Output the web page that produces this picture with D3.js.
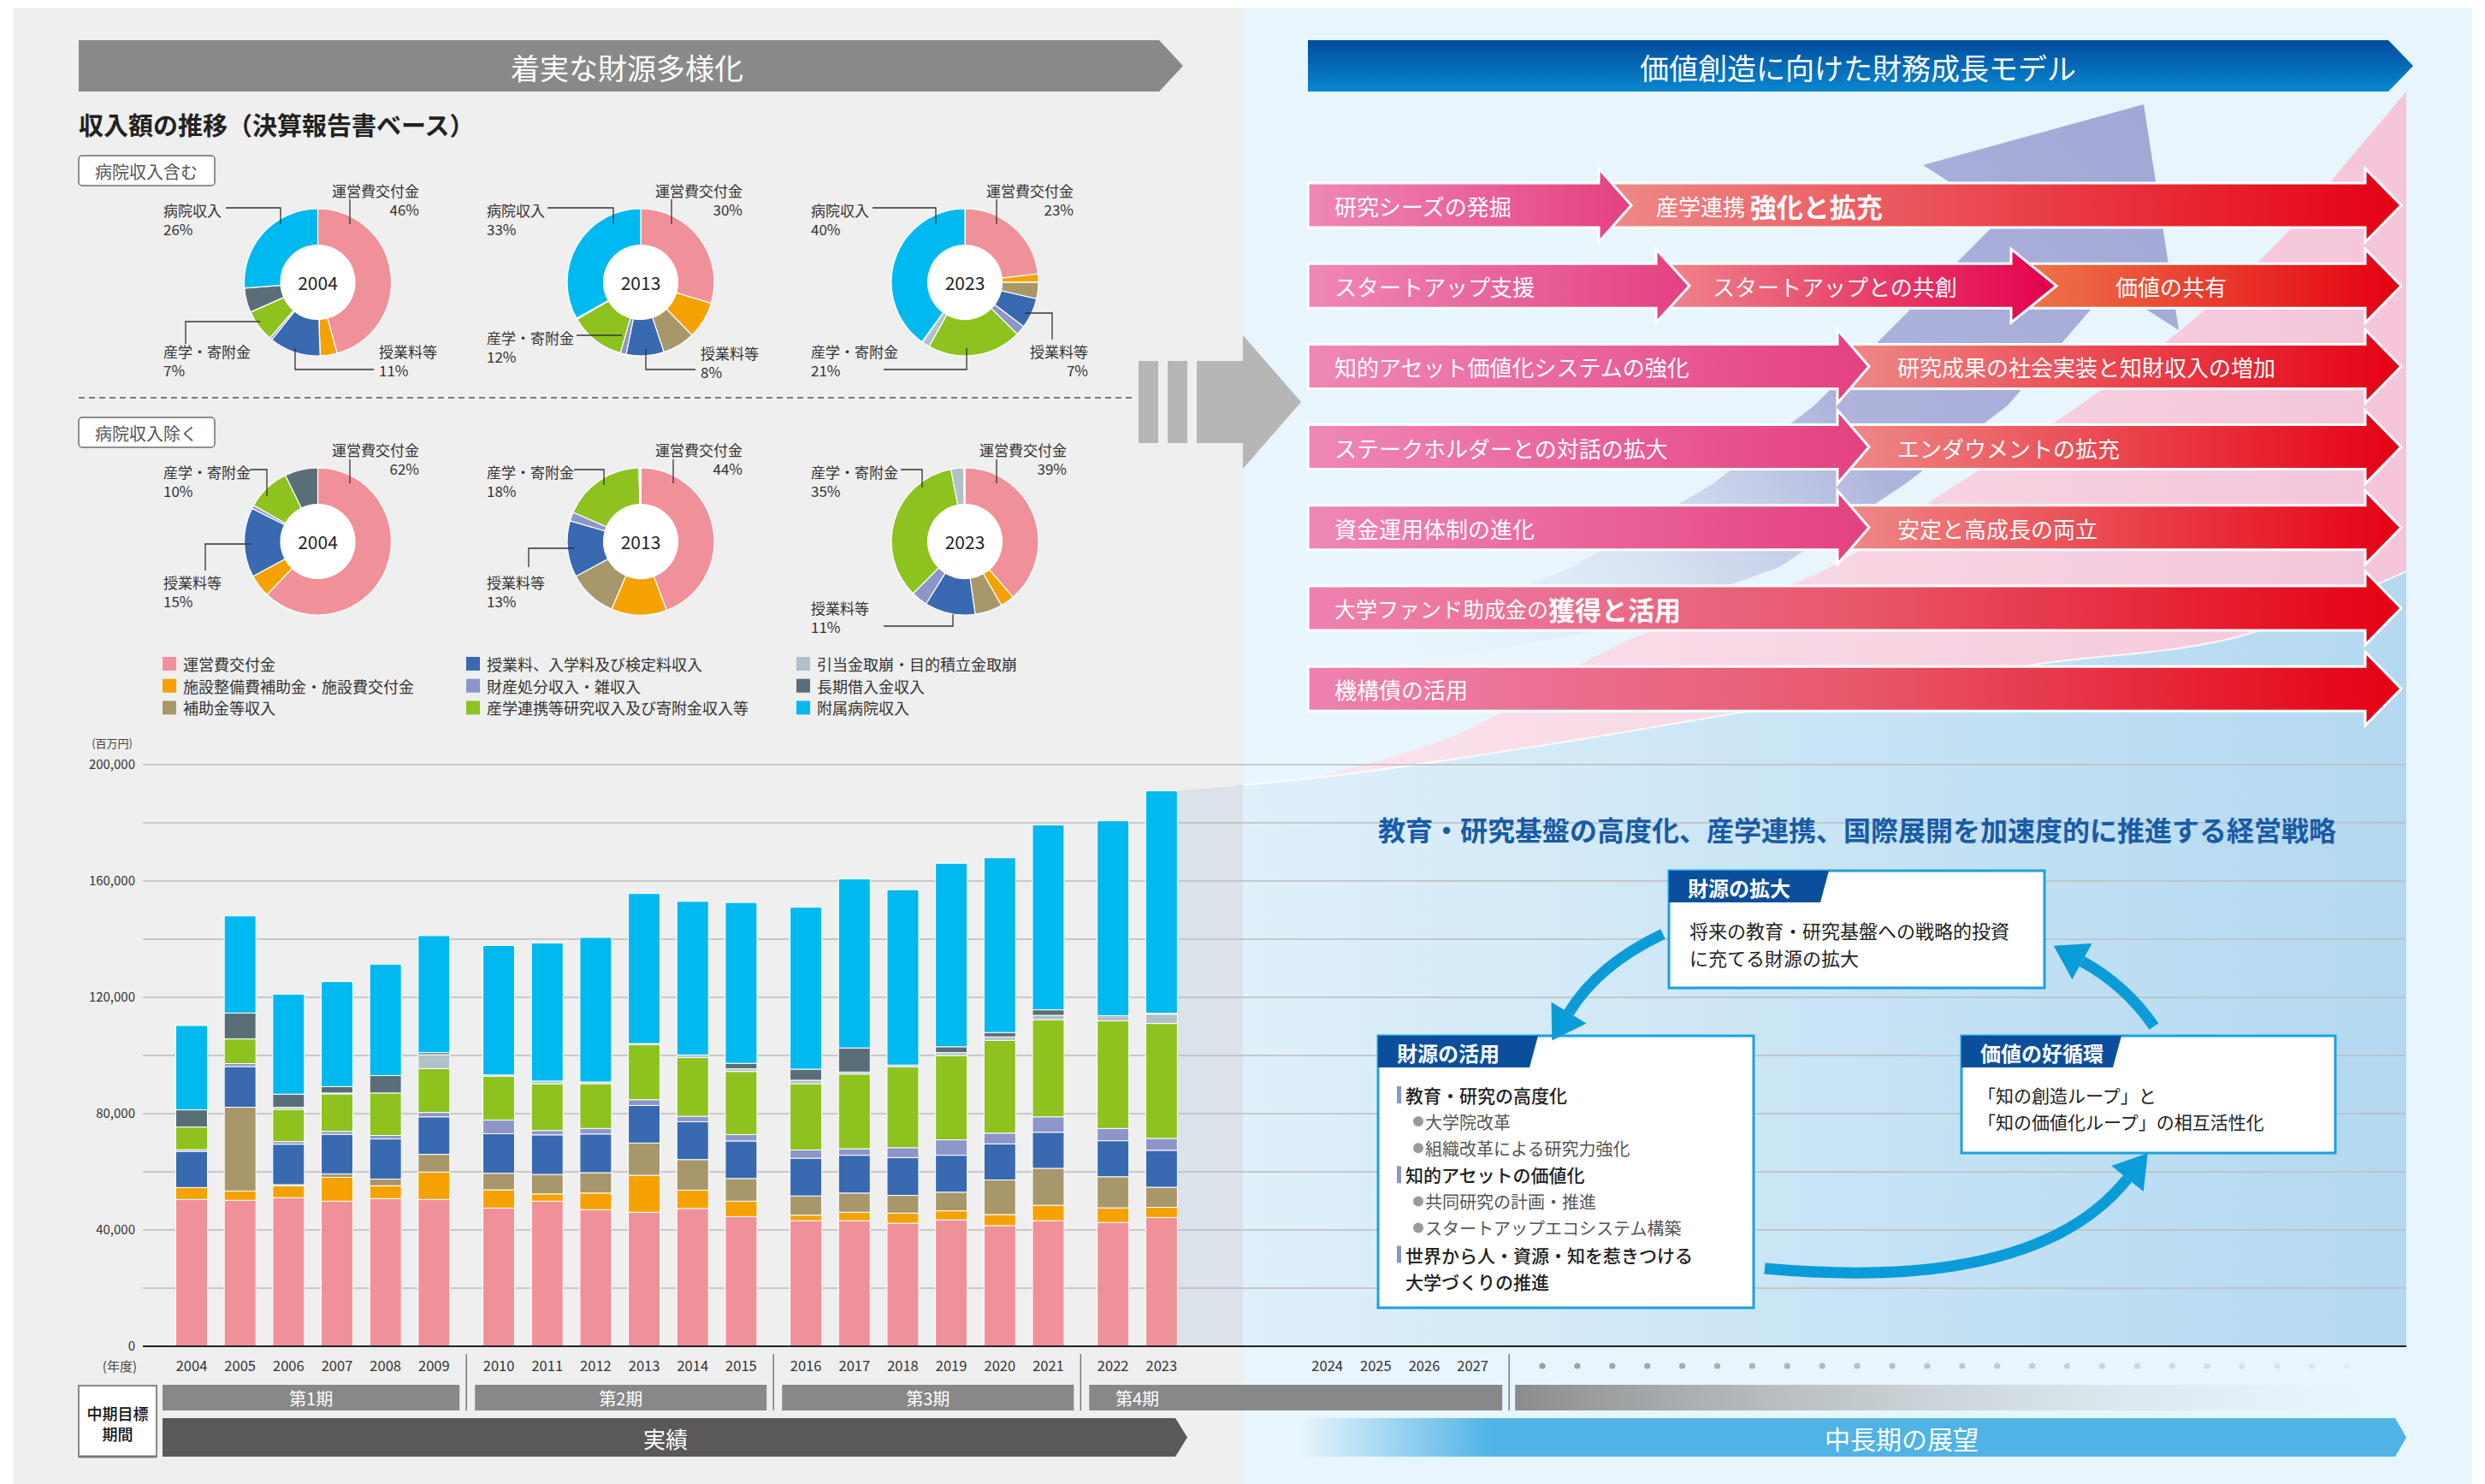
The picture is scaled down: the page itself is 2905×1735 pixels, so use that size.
<!DOCTYPE html>
<html><head><meta charset="utf-8">
<script src="https://cdn.jsdelivr.net/npm/d3@7"></script>
<style>
html,body{margin:0;padding:0;background:#fff;}
svg{display:block;font-family:"Noto Sans CJK JP","Noto Sans",sans-serif;}
</style></head><body>
<svg id="c" width="2905" height="1735"></svg>
<script>
// ---------------- DATA ----------------
const years = [2004,2005,2006,2007,2008,2009,2010,2011,2012,2013,2014,2015,2016,2017,2018,2019,2020,2021,2022,2023];
const futureYears = [2024,2025,2026,2027];
// 百万円
const unkeiKofukin      = [50500,50200,51100,49900,50800,50500,47500,49900,47000,46100,47400,44600,43200,43200,42300,43500,41500,43200,42600,44300];
const shisetsuHojo      = [4100,3200,4100,8200,4400,9400,6300,2500,5700,12700,6300,5300,1900,2900,3500,3100,3800,5300,5000,3500];
const hojokinTo         = [0,28800,400,1200,2300,6100,5700,6700,7000,11100,10500,7800,6600,6600,6100,6400,11900,12700,10700,6900];
const jugyoryo          = [12400,14000,13900,13600,13800,12900,13600,13600,13300,12900,13000,12900,13000,13000,13000,12700,12400,12400,12400,12700];
const zaisanZatsu       = [600,1000,900,1000,1200,1500,4700,1500,1900,2000,1900,2200,2800,2200,3400,5300,3700,5300,4200,4100];
const sangakuKifu       = [7800,8500,11100,12900,14600,15100,15100,16100,15400,18900,20200,21700,22800,25700,27800,29000,31900,33400,37000,39500];
const hikiateTorikuzushi= [0,0,700,300,0,4800,400,900,600,400,900,900,1200,700,600,1000,1200,1500,1800,3200];
const chokiKariire      = [5900,8900,4500,2200,6000,700,0,0,0,0,0,1900,3800,8300,0,2000,1500,1900,0,300];
const byoinShunyu       = [29000,33400,34400,36100,38300,40200,44500,47500,49700,51600,52800,55300,55700,58100,60300,63100,60100,63600,67000,76500];

const seriesNames = ["運営費交付金","施設整備費補助金・施設費交付金","補助金等収入","授業料、入学料及び検定料収入","財産処分収入・雑収入","産学連携等研究収入及び寄附金収入等","引当金取崩・目的積立金取崩","長期借入金収入","附属病院収入"];
const seriesColors = ["#F0919A","#F5A200","#A8976B","#3869B1","#8E95C9","#8DC21F","#B1C0C9","#5A6E78","#00B9EF"];
const seriesValues = [unkeiKofukin,shisetsuHojo,hojokinTo,jugyoryo,zaisanZatsu,sangakuKifu,hikiateTorikuzushi,chokiKariire,byoinShunyu];

const yTicks = [0,40000,80000,120000,160000,200000];
const periodLabels = ["第1期","第2期","第3期","第4期"];
const donutYears = [2004,2013,2023];
const donutInclNames = ["運営費交付金","病院収入","産学・寄附金","授業料等"];
const donutInclPct = [["46%","26%","7%","11%"],["30%","33%","12%","8%"],["23%","40%","21%","7%"]];
const donutExclNames = ["運営費交付金","産学・寄附金","授業料等"];
const donutExclPct = [["62%","10%","15%"],["44%","18%","13%"],["39%","35%","11%"]];

const rowLeftTexts = ["研究シーズの発掘","スタートアップ支援","知的アセット価値化システムの強化","ステークホルダーとの対話の拡大","資金運用体制の進化"];
const rowRightTexts = ["強化と拡充","スタートアップとの共創","研究成果の社会実装と知財収入の増加","エンダウメントの拡充","安定と高成長の両立"];

// ---------------- SETUP ----------------
const svg = d3.select("#c");
const defs = svg.append("defs");
function grad(id, x1,y1,x2,y2, stops, user){
  const g = defs.append("linearGradient").attr("id",id)
    .attr("x1",x1).attr("y1",y1).attr("x2",x2).attr("y2",y2);
  if(user) g.attr("gradientUnits","userSpaceOnUse");
  stops.forEach(s=>g.append("stop").attr("offset",s[0]).attr("stop-color",s[1]).attr("stop-opacity",s[2]===undefined?1:s[2]));
}
grad("gBlueHead","0","0","0","1",[[0,"#004C9C"],[1,"#0A87D0"]]);
grad("gPink","0","0","1","0",[[0,"#EF88B5"],[1,"#E4407F"]]);
grad("gRed","0","0","1","0",[[0,"#EF8C8A"],[1,"#E50014"]]);
grad("gMid","0","0","1","0",[[0,"#EF8A8C"],[1,"#E3004E"]]);
grad("gOrange","0","0","1","0",[[0,"#EE7C4C"],[1,"#E50012"]]);
grad("gFull","0","0","1","0",[[0,"#EE82B0"],[0.5,"#E8586B"],[1,"#E50012"]]);
grad("gWedge",1530,0,2813,0,[[0,"#FBE4EE"],[1,"#F5C5D9"]],true);
grad("gRegion",1453,0,2813,0,[[0,"#DFF0FA"],[1,"#B3D8F0"]],true);
grad("gLav",2506,122,1600,770,[[0,"#A2A8D5"],[0.45,"#AEB4DC"],[1,"#E8F5FC",0]],true);
grad("gFuture",1520,0,1745,0,[[0,"#4FB3E6",0],[1,"#4FB3E6",1]],true);
grad("gFade",1772,0,2779,0,[[0,"#8C8C8C"],[1,"#E8F5FC",0.2]],true);

const y = d3.scaleLinear().domain([0,200000]).range([1574,894]);
const GAP = 0.336, STEP = 56.67, X0 = 224;
const periodIdx = years.map(v => v<=2009?0 : v<=2015?1 : v<=2021?2 : 3);
const slots = years.map((v,i)=> i + periodIdx[i]*GAP);
const x = d3.scaleLinear().domain([0,1]).range([X0, X0+STEP]);
const futureSlots = futureYears.map((v,j)=> slots[slots.length-1] + 3.42 + j);
const BW = 37;

// ---------------- PANELS ----------------
svg.append("rect").attr("x",0).attr("y",0).attr("width",2905).attr("height",1735).attr("fill","#fff");
svg.append("rect").attr("x",15).attr("y",9).attr("width",1438).attr("height",1726).attr("fill","#EFEFEF");
svg.append("rect").attr("x",1453).attr("y",9).attr("width",1437).attr("height",1726).attr("fill","#E8F5FC");

// pink wedge
const total2023 = seriesValues.reduce((s,a)=>s+a[a.length-1],0);
const regionTop = [[x(slots[19])+BW/2, y(total2023)],[1533,910],[1800,872],[2100,822],[2378,777],[2625,742],[2813,668]];
const wedgeLeft = [[1533,910],[1700,860],[1900,750],[2130,668],[2280,571],[2431,474],[2554,382],[2661,285],[2749,183],[2813,107]];
const lineGen = d3.line().curve(d3.curveMonotoneX);
{
  const top = d3.line().curve(d3.curveCatmullRom)(wedgeLeft);
  const back = d3.line().curve(d3.curveMonotoneX)(regionTop.slice(1).reverse());
  svg.append("path").attr("d", top + "L2813,668" + back.replace(/^M/,"L") + "Z").attr("fill","url(#gWedge)");
}
// growth region
{
  const topPath = lineGen(regionTop);
  const d = topPath + `L2813,1574L${regionTop[0][0]},1574Z`;
  defs.append("clipPath").attr("id","cpR").append("rect").attr("x",1453).attr("y",0).attr("width",1500).attr("height",1735);
  defs.append("clipPath").attr("id","cpL").append("rect").attr("x",0).attr("y",0).attr("width",1453).attr("height",1735);
  svg.append("path").attr("d",d).attr("fill","url(#gRegion)").attr("clip-path","url(#cpR)");
  svg.append("path").attr("d",d).attr("fill","#DBE2E9").attr("clip-path","url(#cpL)");
  svg.append("path").attr("d",topPath).attr("fill","none").attr("stroke","#fff").attr("stroke-opacity",0.8).attr("stroke-width",2).attr("clip-path","url(#cpR)");
}
// lavender arrow
{
  const pts = [[2506,122],[2547,386],[2467,335],[2444,362],[2347,474],[2227,566],[2080,663],[1880,735],[1653,775],[1582,768],[1838,663],[2002,566],[2121,474],[2218,377],[2341,253],[2248,193]];
  svg.append("path").attr("d","M"+pts.map(p=>p.join(",")).join("L")+"Z").attr("fill","url(#gLav)");
}

// ---------------- GRID ----------------
const grid = svg.append("g");
d3.range(20000,200001,20000).forEach(v=>{
  grid.append("line").attr("x1",167).attr("x2",2813).attr("y1",y(v)).attr("y2",y(v))
    .attr("stroke","#BDBDBD").attr("stroke-width",1.5);
});

// ---------------- HEADERS ----------------
function hArrow(x0,xb,xt,y0,y1){ const cy=(y0+y1)/2; return `M${x0},${y0}L${xb},${y0}L${xt},${cy}L${xb},${y1}L${x0},${y1}Z`; }
svg.append("path").attr("d",hArrow(92,1355,1383,47,107)).attr("fill","#898989");
svg.append("text").attr("x",733).attr("y",78).attr("text-anchor","middle").attr("dominant-baseline","central")
  .attr("fill","#fff").attr("font-size",34).text("着実な財源多様化");
svg.append("path").attr("d",hArrow(1529,2792,2821,47,107)).attr("fill","url(#gBlueHead)");
svg.append("text").attr("x",2172).attr("y",78).attr("text-anchor","middle").attr("dominant-baseline","central")
  .attr("fill","#fff").attr("font-size",34).text("価値創造に向けた財務成長モデル");

svg.append("text").attr("x",92).attr("y",145).attr("dominant-baseline","central").attr("font-size",29)
  .attr("font-weight",700).attr("fill","#222").text("収入額の推移（決算報告書ベース）");

function tag(yTop, label){
  svg.append("rect").attr("x",92).attr("y",yTop).attr("width",159).attr("height",35).attr("rx",4)
    .attr("fill","#fff").attr("stroke","#6E6E6E").attr("stroke-width",1.5);
  svg.append("text").attr("x",171).attr("y",yTop+18).attr("text-anchor","middle").attr("dominant-baseline","central")
    .attr("font-size",20).attr("fill","#555").text(label);
}
tag(182,"病院収入含む");
tag(488,"病院収入除く");
svg.append("line").attr("x1",92).attr("x2",1325).attr("y1",465).attr("y2",465).attr("stroke","#555").attr("stroke-width",1.5).attr("stroke-dasharray","7,5");

// ---------------- DONUTS ----------------
const pie = d3.pie().sort(null).value(d=>d.v);
const arc = d3.arc().innerRadius(43.5).outerRadius(86);
const donutCx = [371.5,749,1128];
const inclLayout = [
  [ ["end",118.5,-108,[[37.5,-97],[37.5,-68]]], ["start",-180.5,-85,[[-107.5,-87],[-43.5,-87],[-43.5,-68]]], ["start",-180.5,80,[[-154.5,72],[-154.5,46],[-67.5,46]]], ["start",71.5,80,[[-26.5,77],[-26.5,102],[65.5,102]]] ],
  [ ["end",119,-108,[[36,-97],[36,-68]]], ["start",-180,-85,[[-109,-87],[-32,-87],[-32,-68]]], ["start",-180,64,[[-75,62],[-22,62]]], ["start",70,82,[[6,78],[6,102],[64,102]]] ],
  [ ["end",127,-108,[[37,-97],[37,-68]]], ["start",-180,-85,[[-108,-87],[-34,-87],[-34,-68]]], ["start",-180,80,[[-95,102],[2,102],[2,77]]], ["end",144,80,[[70,36],[102,36],[102,67]]] ]
];
const exclLayout = [
  [ ["end",118.5,-108,[[37.5,-96],[37.5,-68]]], ["start",-180.5,-82,[[-79.5,-84],[-59.5,-84],[-59.5,-53]]], ["start",-180.5,47,[[-131.5,34],[-131.5,3],[-77.5,3]]] ],
  [ ["end",119,-108,[[38,-96],[38,-68]]], ["start",-180,-82,[[-78,-84],[-43,-84],[-43,-66]]], ["start",-180,47,[[-131,30],[-131,8],[-78,8]]] ],
  [ ["end",119,-108,[[37,-96],[37,-68]]], ["start",-180,-82,[[-75,-84],[-50,-84],[-50,-63]]], ["start",-180,77,[[-95,99],[-14,99],[-14,85]]] ]
];
function drawDonut(cx, cy, yr, incl, names, pcts, layout){
  const yi = years.indexOf(yr);
  const data = seriesValues.map((a,k)=>({v:a[yi], c:seriesColors[k]})).filter((d,k)=> incl || k!==8);
  const g = svg.append("g").attr("transform",`translate(${cx},${cy})`);
  g.selectAll("path").data(pie(data)).join("path").attr("d",arc).attr("fill",d=>d.data.c)
    .attr("stroke","#fff").attr("stroke-width",1.2);
  g.append("circle").attr("r",43.5).attr("fill","#fff");
  g.append("text").attr("text-anchor","middle").attr("dominant-baseline","central").attr("font-size",21).attr("fill","#222").text(yr);
  layout.forEach((L,i)=>{
    g.append("text").attr("x",L[1]).attr("y",L[2]).attr("text-anchor",L[0]).attr("dominant-baseline","central")
      .attr("font-size",17).attr("fill","#333").text(names[i]);
    g.append("text").attr("x",L[1]).attr("y",L[2]+22).attr("text-anchor",L[0]).attr("dominant-baseline","central")
      .attr("font-size",17).attr("fill","#333").text(pcts[i]);
    g.append("path").attr("d",d3.line()(L[3])).attr("fill","none").attr("stroke","#333").attr("stroke-width",1.3);
  });
}
donutYears.forEach((yr,i)=>{
  drawDonut(donutCx[i],330,yr,true,donutInclNames,donutInclPct[i],inclLayout[i]);
  drawDonut(donutCx[i],633,yr,false,donutExclNames,donutExclPct[i],exclLayout[i]);
});

// ---------------- LEGEND ----------------
seriesNames.forEach((n,k)=>{
  const col = Math.floor(k/3), row = k%3;
  const lx = [190,545,931][col], ly = 776 + row*25.7;
  svg.append("rect").attr("x",lx).attr("y",ly-8).attr("width",16).attr("height",16).attr("fill",seriesColors[k]);
  svg.append("text").attr("x",lx+24).attr("y",ly).attr("dominant-baseline","central").attr("font-size",18).attr("fill","#333").text(n);
});

// ---------------- BARS ----------------
const tableRows = years.map((yr,i)=>{ const o={year:yr, slot:slots[i]}; seriesNames.forEach((n,k)=>o[n]=seriesValues[k][i]); return o; });
const stack = d3.stack().keys(seriesNames)(tableRows);
const barsG = svg.append("g");
stack.forEach((layer,k)=>{
  barsG.append("g").attr("fill",seriesColors[k]).selectAll("rect").data(layer.filter(d=>d[1]-d[0]>0)).join("rect")
    .attr("x",d=>x(d.data.slot)-BW/2).attr("width",BW)
    .attr("y",d=>y(d[1])).attr("height",d=>y(d[0])-y(d[1]))
    .attr("stroke","#fff").attr("stroke-width",1);
});
svg.append("line").attr("x1",167).attr("x2",2813).attr("y1",y(0)).attr("y2",y(0)).attr("stroke","#222").attr("stroke-width",2);
const yAxis = svg.append("g").attr("transform","translate(158,0)")
  .call(d3.axisLeft(y).tickValues(yTicks).tickFormat(d3.format(",")).tickSize(0).tickPadding(0));
yAxis.select(".domain").remove();
yAxis.selectAll("text").attr("font-size",15).attr("fill","#333").attr("font-family","'Noto Sans CJK JP',sans-serif");
svg.append("text").attr("x",155).attr("y",868).attr("text-anchor","end").attr("dominant-baseline","central").attr("font-size",13).attr("fill","#444").text("(百万円)");
svg.append("text").attr("x",160).attr("y",1596).attr("text-anchor","end").attr("dominant-baseline","central").attr("font-size",15).attr("fill","#444").text("(年度)");
years.forEach((yr,i)=> svg.append("text").attr("x",x(slots[i])).attr("y",1596).attr("text-anchor","middle").attr("dominant-baseline","central").attr("font-size",16.5).attr("fill","#333").text(yr));
futureYears.forEach((yr,j)=> svg.append("text").attr("x",x(futureSlots[j])).attr("y",1596).attr("text-anchor","middle").attr("dominant-baseline","central").attr("font-size",16.5).attr("fill","#333").text(yr));

const seps = [ (x(slots[5])+x(slots[6]))/2, (x(slots[11])+x(slots[12]))/2, (x(slots[17])+x(slots[18]))/2, x(futureSlots[3])+0.75*STEP ];
seps.forEach(s=> svg.append("line").attr("x1",s).attr("x2",s).attr("y1",1583).attr("y2",1649).attr("stroke","#777").attr("stroke-width",1.5));
const boxStarts = [190, seps[0]+10, seps[1]+10, seps[2]+10];
const boxEnds = [seps[0]-8, seps[1]-8, seps[2]-8, seps[3]-8];
periodLabels.forEach((p,i)=>{
  svg.append("rect").attr("x",boxStarts[i]).attr("y",1619).attr("width",boxEnds[i]-boxStarts[i]).attr("height",30).attr("fill","#888888");
  const tx = i<3 ? (boxStarts[i]+boxEnds[i])/2 : (x(slots[18])+x(slots[19]))/2;
  svg.append("text").attr("x",tx).attr("y",1634).attr("text-anchor","middle").attr("dominant-baseline","central").attr("font-size",20).attr("fill","#fff").text(p);
});
svg.append("rect").attr("x",seps[3]+7).attr("y",1619).attr("width",2779-seps[3]-7).attr("height",30).attr("fill","url(#gFade)");
d3.range(24).forEach(i=>{
  svg.append("circle").attr("cx",1803+i*40.9).attr("cy",1597).attr("r",3.6).attr("fill","#8E8E8E").attr("fill-opacity",0.85-i*0.033);
});
svg.append("rect").attr("x",92).attr("y",1620).attr("width",91).attr("height",83).attr("fill","#fff").attr("stroke","#666").attr("stroke-width",1.5);
svg.append("line").attr("x1",92).attr("x2",183).attr("y1",1703).attr("y2",1703).attr("stroke","#777").attr("stroke-width",3);
svg.append("text").attr("x",137.5).attr("y",1652).attr("text-anchor","middle").attr("dominant-baseline","central").attr("font-size",18).attr("font-weight",500).attr("fill","#111").text("中期目標");
svg.append("text").attr("x",137.5).attr("y",1676).attr("text-anchor","middle").attr("dominant-baseline","central").attr("font-size",18).attr("font-weight",500).attr("fill","#111").text("期間");
svg.append("path").attr("d",hArrow(190,1374,1388,1658,1703)).attr("fill","#5A5858");
svg.append("text").attr("x",778).attr("y",1681).attr("text-anchor","middle").attr("dominant-baseline","central").attr("font-size",26).attr("fill","#fff").text("実績");
svg.append("path").attr("d",hArrow(1520,2800,2813,1658,1703)).attr("fill","url(#gFuture)");
svg.append("text").attr("x",2223).attr("y",1681).attr("text-anchor","middle").attr("dominant-baseline","central").attr("font-size",30).attr("fill","#fff").text("中長期の展望");

// ---------------- BIG GREY ARROW ----------------
svg.append("rect").attr("x",1331).attr("y",422).attr("width",23).attr("height",96).attr("fill","#B5B6B5");
svg.append("rect").attr("x",1365).attr("y",422).attr("width",23).attr("height",96).attr("fill","#B5B6B5");
svg.append("path").attr("d","M1399,422L1453,422L1453,392L1521,470L1453,548L1453,518L1399,518Z").attr("fill","#B5B6B5");

// ---------------- RIGHT ARROW ROWS ----------------
function arrowD(x0,xb,xt,cy,bh,hh){ return `M${x0},${cy-bh}L${xb},${cy-bh}L${xb},${cy-hh}L${xt},${cy}L${xb},${cy+hh}L${xb},${cy+bh}L${x0},${cy+bh}Z`; }
const rowCy = d3.range(7).map(i=>240+i*94.2);
const BH=26, HH=43;
const aG = svg.append("g").attr("stroke","#fff").attr("stroke-width",3).attr("stroke-linejoin","miter");
const pinkEnds = [[1869,1907],[1936,1975],[2148,2185],[2148,2185],[2148,2185]];
function label(xp, cy, parts){
  const t = svg.append("text").attr("x",xp).attr("y",cy).attr("dominant-baseline","central").attr("fill","#fff");
  parts.forEach(p=> t.append("tspan").attr("font-size",p[1]).attr("font-weight",p[2]||400).text(p[0]));
}
for(let r=0;r<5;r++){
  const cy = rowCy[r], pe = pinkEnds[r];
  if(r===1){
    aG.append("path").attr("d",arrowD(2341,2765,2807,cy,BH,HH)).attr("fill","url(#gOrange)");
    aG.append("path").attr("d",arrowD(pe[0]-10,2351,2404,cy,BH,HH)).attr("fill","url(#gMid)");
  } else {
    aG.append("path").attr("d",arrowD(pe[0]-10,2765,2807,cy,BH,HH)).attr("fill","url(#gRed)");
  }
  aG.append("path").attr("d",arrowD(1529,pe[0],pe[1],cy,BH,HH)).attr("fill","url(#gPink)");
}
aG.append("path").attr("d",arrowD(1529,2765,2807,rowCy[5],BH,HH)).attr("fill","url(#gFull)");
aG.append("path").attr("d",arrowD(1529,2765,2807,rowCy[6],BH,HH)).attr("fill","url(#gFull)");
rowLeftTexts.forEach((t,r)=> label(1560,rowCy[r],[[t,26]]));
label(1936,rowCy[0],[["産学連携 ",26],[rowRightTexts[0],31,700]]);
label(2002,rowCy[1],[[rowRightTexts[1],26]]);
label(2473,rowCy[1],[["価値の共有",26]]);
[2,3,4].forEach(r=> label(2218,rowCy[r],[[rowRightTexts[r],26]]));
label(1560,rowCy[5],[["大学ファンド助成金の",25],["獲得と活用",31,700]]);
label(1560,rowCy[6],[["機構債の活用",26]]);

// ---------------- CYCLE DIAGRAM ----------------
svg.append("text").attr("x",2171).attr("y",969).attr("text-anchor","middle").attr("dominant-baseline","central")
  .attr("font-size",32).attr("font-weight",700).attr("fill","#1A5BA6").text("教育・研究基盤の高度化、産学連携、国際展開を加速度的に推進する経営戦略");

function box(x0,y0,w,h,head,hw){
  svg.append("rect").attr("x",x0).attr("y",y0).attr("width",w).attr("height",h).attr("fill","#fff").attr("stroke","#1BA1DD").attr("stroke-width",3);
  svg.append("path").attr("d",`M${x0},${y0}L${x0+hw},${y0}L${x0+hw-10},${y0+37}L${x0},${y0+37}Z`).attr("fill","#0B4F9C");
  svg.append("text").attr("x",x0+22).attr("y",y0+19).attr("dominant-baseline","central").attr("font-size",24).attr("font-weight",700).attr("fill","#fff").text(head);
}
box(1951,1018,439,137,"財源の拡大",187);
["将来の教育・研究基盤への戦略的投資","に充てる財源の拡大"].forEach((t,i)=>
  svg.append("text").attr("x",1975).attr("y",1087+i*32).attr("dominant-baseline","central").attr("font-size",22).attr("fill","#222").text(t));
box(1611,1211,439,318,"財源の活用",187);
const useItems = [["教育・研究の高度化",0],["大学院改革",1],["組織改革による研究力強化",1],["知的アセットの価値化",0],["共同研究の計画・推進",1],["スタートアップエコシステム構築",1],["世界から人・資源・知を惹きつける",0],["大学づくりの推進",2]];
useItems.forEach((it,i)=>{
  const cy = 1280 + i*31.1;
  if(it[1]===0){
    svg.append("rect").attr("x",1633).attr("y",cy-10).attr("width",5).attr("height",20).attr("fill","#8E95C9");
    svg.append("text").attr("x",1643).attr("y",cy).attr("dominant-baseline","central").attr("font-size",21).attr("font-weight",500).attr("fill","#222").text(it[0]);
  } else if(it[1]===1){
    svg.append("circle").attr("cx",1658).attr("cy",cy).attr("r",6).attr("fill","#9A9A9A");
    svg.append("text").attr("x",1666).attr("y",cy).attr("dominant-baseline","central").attr("font-size",20).attr("fill","#555").text(it[0]);
  } else {
    svg.append("text").attr("x",1643).attr("y",cy).attr("dominant-baseline","central").attr("font-size",21).attr("font-weight",500).attr("fill","#222").text(it[0]);
  }
});
box(2293,1211,437,137,"価値の好循環",187);
["「知の創造ループ」と","「知の価値化ループ」の相互活性化"].forEach((t,i)=>
  svg.append("text").attr("x",2312).attr("y",1280+i*31).attr("dominant-baseline","central").attr("font-size",21).attr("fill","#222").text(t));

function curvedArrow(S,C,E){
  svg.append("path").attr("d",`M${S[0]},${S[1]}Q${C[0]},${C[1]} ${E[0]},${E[1]}`).attr("fill","none").attr("stroke","#0A9CD8").attr("stroke-width",13);
  const dx=E[0]-C[0], dy=E[1]-C[1], L=Math.hypot(dx,dy), ux=dx/L, uy=dy/L, px=-uy, py=ux;
  const hl=38, hw=24;
  const tip=[E[0]+ux*hl, E[1]+uy*hl];
  svg.append("path").attr("d",`M${tip[0]},${tip[1]}L${E[0]+px*hw},${E[1]+py*hw}L${E[0]-px*hw},${E[1]-py*hw}Z`).attr("fill","#0A9CD8");
}
curvedArrow([1944,1092],[1868,1128],[1834,1184]);
curvedArrow([2063,1483],[2380,1512],[2487,1378]);
curvedArrow([2518,1200],[2485,1152],[2434,1124]);
</script>
</body></html>
